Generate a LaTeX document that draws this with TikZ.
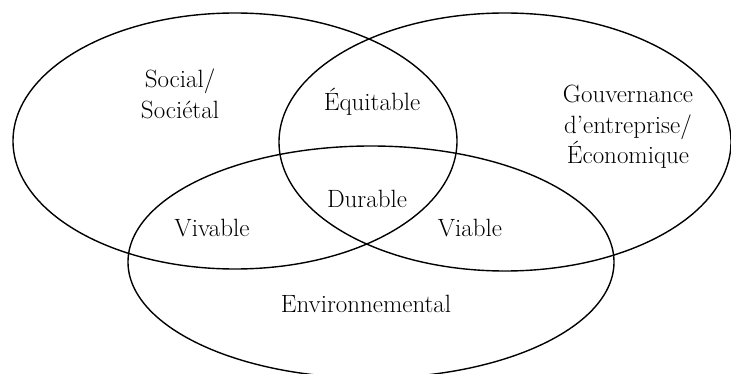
\documentclass[tikz,border=0pt]{standalone}
\usepackage{tikz}
\usetikzlibrary{shapes.geometric,calc}

\begin{document}
\begin{tikzpicture}[x=1pt,y=-1pt,line width=1.4pt,
                    every node/.style={font=\fontsize{25}{30.5}\selectfont,align=center}]
  \useasboundingbox (0,0) rectangle (731,374);
  % the three circles of the diagram
  \draw (235,141) ellipse [x radius=222, y radius=128];
  \draw (505,142) ellipse [x radius=226, y radius=129];
  \draw (371,262) ellipse [x radius=243, y radius=116];

  \node (S) at (180,94)  {Social/\\Sociétal};
  \node (G) at (628,127) {Gouvernance\\d'entreprise/\\Économique};
  \node (E) at (366,304) {Environnemental};
  \node (Q) at (372,102) {Équitable};
  \node (D) at (367,199) {Durable};
  \node (V) at (212,228) {Vivable};
  \node (B) at (470,228) {Viable};
\end{tikzpicture}
\end{document}
